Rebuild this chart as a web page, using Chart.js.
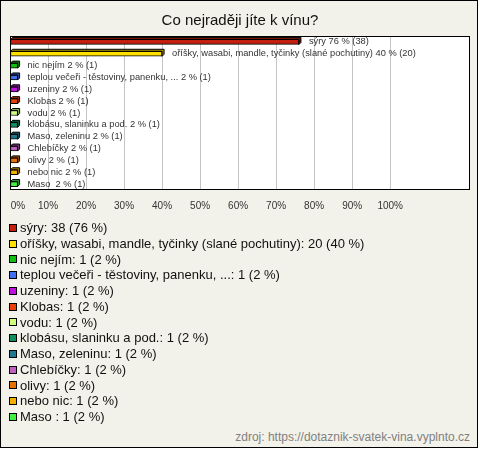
<!DOCTYPE html>
<html><head><meta charset="utf-8">
<script src="https://cdn.jsdelivr.net/npm/chart.js@4"></script>
<style>
html,body{margin:0;padding:0;background:#fff;}
#frame{position:relative;width:478px;height:448px;box-sizing:border-box;border:1px solid #000;background:#f3f2ea;font-family:"Liberation Sans",Arial,sans-serif;overflow:hidden}
#wrap{position:absolute;left:0;top:0;width:476px;height:225px}
#legend{position:absolute;left:8px;top:219px;}
.row{height:15.75px;line-height:15.75px;font-size:13px;color:#111;white-space:nowrap;display:flex;align-items:center}
.sw{width:6px;height:6px;border:1px solid #000;margin-right:3px;flex:none}
#source{position:absolute;right:7px;top:429px;font-size:12px;color:#808080;white-space:nowrap}
</style></head>
<body>
<div id="frame">
  <div id="wrap"><canvas id="c"></canvas></div>
  <div id="legend"></div>
  <div id="source">zdroj: https://dotaznik-svatek-vina.vyplnto.cz</div>
</div>
<script>
const titleText = "Co nejraději jíte k vínu?";
const categories = ["sýry", "oříšky, wasabi, mandle, tyčinky (slané pochutiny)", "nic nejím", "teplou večeři - těstoviny, panenku, ...", "uzeniny", "Klobas", "vodu", "klobásu, slaninku a pod.", "Maso, zeleninu", "Chlebíčky", "olivy", "nebo nic", "Maso "];
const counts = [38, 20, 1, 1, 1, 1, 1, 1, 1, 1, 1, 1, 1];
const percents = [76, 40, 2, 2, 2, 2, 2, 2, 2, 2, 2, 2, 2];
const colors = ["#c42010", "#ffe000", "#10c010", "#4070f0", "#c010e0", "#e84008", "#d0ff80", "#109060", "#207890", "#c060c0", "#e87000", "#f0b000", "#40f040"];
const tickValues = [0, 10, 20, 30, 40, 50, 60, 70, 80, 90, 100];

function darker(hex, f) {
  const n = parseInt(hex.slice(1), 16);
  const r = Math.round(((n >> 16) & 255) * f), g = Math.round(((n >> 8) & 255) * f), b = Math.round((n & 255) * f);
  return `rgb(${r},${g},${b})`;
}

// HTML legend, one item per line
const legend = document.getElementById('legend');
categories.forEach((c, i) => {
  const row = document.createElement('div'); row.className = 'row';
  const sw = document.createElement('span'); sw.className = 'sw'; sw.style.background = colors[i];
  const tx = document.createElement('span'); tx.textContent = `${c}: ${counts[i]} (${percents[i]} %)`;
  row.appendChild(sw); row.appendChild(tx); legend.appendChild(row);
});

const plotFrame = {
  id: 'plotFrame',
  beforeDraw(chart) {
    const a = chart.chartArea, ctx = chart.ctx;
    ctx.save(); ctx.fillStyle = '#ffffff';
    ctx.fillRect(a.left, a.top, a.right - a.left, a.bottom - a.top); ctx.restore();
    // keep the first tick label inside the plot edge, as in the original
    const items = chart.scales.x.getLabelItems();
    if (items.length && !items[0]._shifted) {
      items[0].options.translation[0] += 8;
      items[0]._shifted = true;
    }
  },
  afterDraw(chart) {
    const a = chart.chartArea, ctx = chart.ctx;
    ctx.save(); ctx.strokeStyle = '#000'; ctx.lineWidth = 1;
    ctx.strokeRect(Math.round(a.left) + 0.5, Math.round(a.top) + 0.5, Math.round(a.right - a.left) - 1, Math.round(a.bottom - a.top) - 1);
    ctx.restore();
  }
};

const bar3d = {
  id: 'bar3d',
  afterDatasetsDraw(chart) {
    const ctx = chart.ctx, meta = chart.getDatasetMeta(0), d = 2;
    ctx.save();
    meta.data.forEach((el, i) => {
      const p = el.getProps(['x', 'y', 'base', 'height'], true);
      const l = p.base, r = p.x, t = p.y - p.height / 2, b = p.y + p.height / 2;
      ctx.lineWidth = 1; ctx.strokeStyle = '#000';
      ctx.fillStyle = darker(colors[i], 0.65);
      ctx.beginPath();
      ctx.moveTo(l, t); ctx.lineTo(l + d, t - d); ctx.lineTo(r + d, t - d); ctx.lineTo(r + d, b - d); ctx.lineTo(r, b); ctx.lineTo(r, t); ctx.closePath();
      ctx.fill(); ctx.stroke();
      // labels
      ctx.fillStyle = '#333'; ctx.font = '9.3px "Liberation Sans", Arial, sans-serif';
      ctx.textBaseline = 'middle'; ctx.textAlign = 'left';
      ctx.fillText(`${categories[i]} ${percents[i]} % (${counts[i]})`, r + 10, p.y);
    });
    ctx.restore();
  }
};

new Chart(document.getElementById('c'), {
  type: 'bar',
  data: {
    labels: categories,
    datasets: [{
      data: percents,
      backgroundColor: colors,
      borderColor: '#000',
      borderWidth: 1,
      barThickness: 5,
      borderSkipped: false
    }]
  },
  options: {
    indexAxis: 'y',
    responsive: true,
    maintainAspectRatio: false,
    animation: false,
    layout: { padding: { left: 9, right: 7, top: 0, bottom: 4 } },
    plugins: {
      legend: { display: false },
      tooltip: { enabled: false },
      title: {
        display: true, text: titleText, color: '#111',
        font: { family: '"Liberation Sans", Arial, sans-serif', size: 15, weight: 'normal' },
        padding: { top: 11, bottom: 6 }
      }
    },
    scales: {
      x: {
        min: 0, max: 121,
        afterBuildTicks(scale) { scale.ticks = tickValues.map(v => ({ value: v })); },
        afterFit(scale) { scale.paddingLeft = 0; scale.paddingRight = 0; },
        grid: { color: '#c4c4c4', drawTicks: false, lineWidth: 1 },
        border: { display: false },
        ticks: {
          padding: 10, color: '#333', autoSkip: false, maxRotation: 0,
          font: { family: '"Liberation Sans", Arial, sans-serif', size: 10 },
          callback: v => v + '%'
        }
      },
      y: {
        display: false,
        offset: true,
        grid: { display: false }
      }
    }
  },
  plugins: [plotFrame, bar3d]
});
</script>
</body></html>
